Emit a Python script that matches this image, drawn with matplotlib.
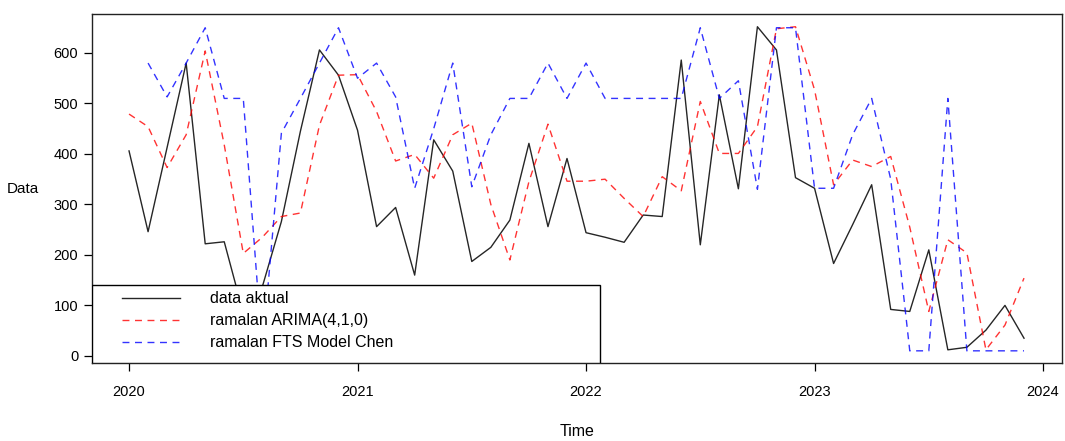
import numpy as np
import matplotlib
matplotlib.use("Agg")
from matplotlib import pyplot as plt
from matplotlib.patches import Rectangle

# monthly series, Jan 2020 - Dec 2023
start_year = 2020
data_aktual = [406, 246, 413, 580, 222, 226, 85, 137, 266, 445, 606, 556,
               447, 256, 294, 160, 428, 366, 187, 215, 269, 421, 256, 391,
               244, 235, 225, 279, 276, 586, 220, 517, 331, 652, 606, 353,
               332, 183, 260, 339, 92, 88, 210, 12, 17, 51, 100, 35]
ramalan_arima = [479, 454, 373, 438, 604, 418, 203, 235, 276, 283, 457, 556,
                 557, 484, 386, 399, 352, 438, 461, 300, 190, 345, 459, 346,
                 346, 350, 312, 276, 355, 327, 504, 401, 401, 454, 648, 652,
                 527, 339, 388, 375, 395, 255, 88, 230, 204, 12, 61, 154]
ramalan_chen = [np.nan, 580, 513, 580, 650, 510, 510, 10, 441, 510, 580, 650,
                550, 580, 513, 332, 450, 580, 335, 438, 510, 510, 580, 510,
                580, 510, 510, 510, 510, 510, 650, 510, 545, 330, 650, 650,
                332, 332, 438, 510, 350, 10, 10, 510, 10, 10, 10, 10]
labels = ["data aktual", "ramalan ARIMA(4,1,0)", "ramalan FTS Model Chen"]

t = start_year + np.arange(len(data_aktual)) / 12.0

plt.rcParams['font.family'] = ['Liberation Sans', 'DejaVu Sans']

fig = plt.figure(figsize=(10.65, 4.41), dpi=100)
ax = fig.add_axes([0.0864, 0.177, 0.9108, 0.791])

styles = [dict(color='black', linewidth=1.0, alpha=0.85),
          dict(color='red', linewidth=1.0, alpha=0.8, linestyle=(0, (5, 4))),
          dict(color='blue', linewidth=1.0, alpha=0.8, linestyle=(0, (5, 4)))]

for series, st in zip([data_aktual, ramalan_arima, ramalan_chen], styles):
    ax.plot(t, series, **st)

ax.set_xlim(2019.838, 2024.083)
ax.set_ylim(-14, 677)
ax.set_xticks([2020, 2021, 2022, 2023, 2024])
ax.set_xticklabels(["2020", "2021", "2022", "2023", "2024"])
ax.set_yticks([0, 100, 200, 300, 400, 500, 600])
ax.tick_params(direction='out', length=6, width=0.9, labelsize=10.5, colors='black')
ax.tick_params(axis='x', pad=10)
ax.tick_params(axis='y', pad=4)
for s in ax.spines.values():
    s.set_linewidth(1.0)
    s.set_color('#222222')

ax.set_xlabel("Time", fontsize=11.5, labelpad=18)
ax.set_ylabel("Data", fontsize=11, rotation=0, labelpad=22, va='center')

# legend box in R style (bottomleft, wide frame)
box = Rectangle((0, 0), 0.5237, 0.2235, transform=ax.transAxes, facecolor='white',
                edgecolor='black', linewidth=1.0, zorder=5)
ax.add_patch(box)
rows = [0.186, 0.123, 0.060]
for lab, st, yr in zip(labels, styles, rows):
    ax.plot([0.0309, 0.0907], [yr, yr], transform=ax.transAxes, zorder=6, **st)
    ax.text(0.1216, yr, lab, transform=ax.transAxes, fontsize=11.5,
            va='center', ha='left', zorder=6)

fig.savefig("out.png", dpi=100)
